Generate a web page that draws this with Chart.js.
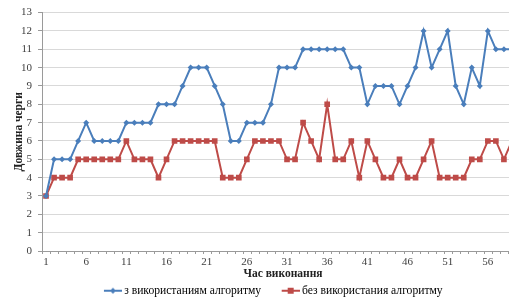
<!DOCTYPE html>
<html>
<head>
<meta charset="utf-8">
<script src="https://cdn.jsdelivr.net/npm/chart.js@4"></script>
<style>
html,body{margin:0;padding:0;background:#fff;overflow:hidden;width:509px;height:300px;}
canvas{display:block;}
</style>
</head>
<body>
<canvas id="c" width="570" height="300" style="width:570px;height:300px"></canvas>
<script>
const categories = Array.from({length: 59}, (_, i) => i + 1);
const withAlgo = [3,5,5,5,6,7,6,6,6,6,7,7,7,7,8,8,8,9,10,10,10,9,8,6,6,7,7,7,8,10,10,10,11,11,11,11,11,11,10,10,8,9,9,9,8,9,10,12,10,11,12,9,8,10,9,12,11,11,11];
const withoutAlgo = [3,4,4,4,5,5,5,5,5,5,6,5,5,5,4,5,6,6,6,6,6,6,4,4,4,5,6,6,6,6,5,5,7,6,5,8,5,5,6,4,6,5,4,4,5,4,4,5,6,4,4,4,4,5,5,6,6,5,6];
const xTickLabels = [1,6,11,16,21,26,31,36,41,46,51,56];
const yTickLabels = [0,1,2,3,4,5,6,7,8,9,10,11,12,13];
const seriesNames = ['з використаниям алгоритму', 'без використания алгоритму'];
const xTitle = 'Час виконання';
const yTitle = 'Довжина черги';

const BLUE = '#4a7ebb', RED = '#be4b48';
const SERIF = '"Liberation Serif", "Times New Roman", serif';

function legendIcon(color, style) {
  const c = document.createElement('canvas');
  c.width = 26; c.height = 8;
  const g = c.getContext('2d');
  g.strokeStyle = color; g.lineWidth = 2;
  g.beginPath(); g.moveTo(8, 4); g.lineTo(26, 4); g.stroke();
  g.fillStyle = color;
  if (style === 'rect') { g.fillRect(14, 1, 6, 6); }
  else { g.beginPath(); g.moveTo(17, 1); g.lineTo(20, 4); g.lineTo(17, 7); g.lineTo(14, 4); g.closePath(); g.fill(); }
  return c;
}

const minorTicks = {
  id: 'minorTicks',
  afterDatasetsDraw(chart) {
    const xs = chart.scales.x, ctx = chart.ctx;
    ctx.save();
    ctx.strokeStyle = '#9a9a9a'; ctx.lineWidth = 1;
    for (let i = 0; i <= categories.length + 2; i++) {
      const px = Math.round(xs.getPixelForValue(i + 0.5)) + 0.5;
      if (px > chart.chartArea.right) break;
      ctx.beginPath(); ctx.moveTo(px, xs.top); ctx.lineTo(px, xs.top + 3); ctx.stroke();
    }
    ctx.restore();
  }
};

const legendShift = {
  id: 'legendShift',
  afterLayout(chart) {
    if (chart.legend) { chart.legend.left -= 12; chart.legend.right -= 12; }
  }
};

new Chart(document.getElementById('c'), {
  type: 'line',
  data: {
    datasets: [
      {
        label: seriesNames[0],
        data: categories.map((x, i) => ({x, y: withAlgo[i]})),
        borderColor: BLUE, backgroundColor: BLUE, borderWidth: 2,
        pointStyle: 'rectRot', pointRadius: 3, pointBorderWidth: 0,
        tension: 0
      },
      {
        label: seriesNames[1],
        data: categories.map((x, i) => ({x, y: withoutAlgo[i]})),
        borderColor: RED, backgroundColor: RED, borderWidth: 2,
        pointStyle: 'rect', pointRadius: 4, pointBorderWidth: 0,
        tension: 0
      }
    ]
  },
  options: {
    responsive: false,
    animation: false,
    layout: { padding: { left: 0, right: 46, top: 9, bottom: -6.5 } },
    plugins: {
      tooltip: { enabled: false },
      legend: {
        position: 'bottom',
        fullSize: false,
        labels: {
          usePointStyle: true,
          pointStyleWidth: 19,
          padding: 16,
          color: '#333',
          font: { family: SERIF, size: 11.6 },
          generateLabels(chart) {
            return chart.data.datasets.map((d, i) => ({
              text: d.label,
              pointStyle: legendIcon(d.borderColor, i === 0 ? 'rectRot' : 'rect'),
              fillStyle: d.borderColor, strokeStyle: d.borderColor, lineWidth: 0,
              datasetIndex: i, hidden: false
            }));
          }
        }
      }
    },
    scales: {
      x: {
        type: 'linear',
        min: 0.5,
        max: 60.5,
        afterBuildTicks(scale) { scale.ticks = xTickLabels.map(v => ({value: v})); },
        afterFit(scale) { scale.height = 17.9; },
        grid: { display: true, drawOnChartArea: false, drawTicks: false },
        border: { color: '#9a9a9a', width: 1 },
        ticks: {
          padding: 4.5,
          color: '#404040',
          maxRotation: 0,
          font: { family: SERIF, size: 11 }
        },
        title: {
          display: true, text: xTitle, color: '#222',
          padding: { top: 0, bottom: -12.2 },
          font: { family: SERIF, size: 11.5, weight: 'bold' }
        }
      },
      y: {
        min: 0, max: 13,
        afterBuildTicks(scale) { scale.ticks = yTickLabels.map(v => ({value: v})); },
        afterFit(scale) { scale.width = 42; },
        grid: { color: '#d9d9d9', tickLength: 4, tickColor: '#9a9a9a', lineWidth: 1 },
        border: { color: '#9a9a9a', width: 1 },
        ticks: {
          padding: 6,
          color: '#404040',
          font: { family: SERIF, size: 11 }
        },
        title: {
          display: true, text: yTitle, color: '#222',
          padding: { top: 12, bottom: 0 },
          font: { family: SERIF, size: 11.5, weight: 'bold' }
        }
      }
    }
  },
  plugins: [minorTicks, legendShift]
});
</script>
</body>
</html>
